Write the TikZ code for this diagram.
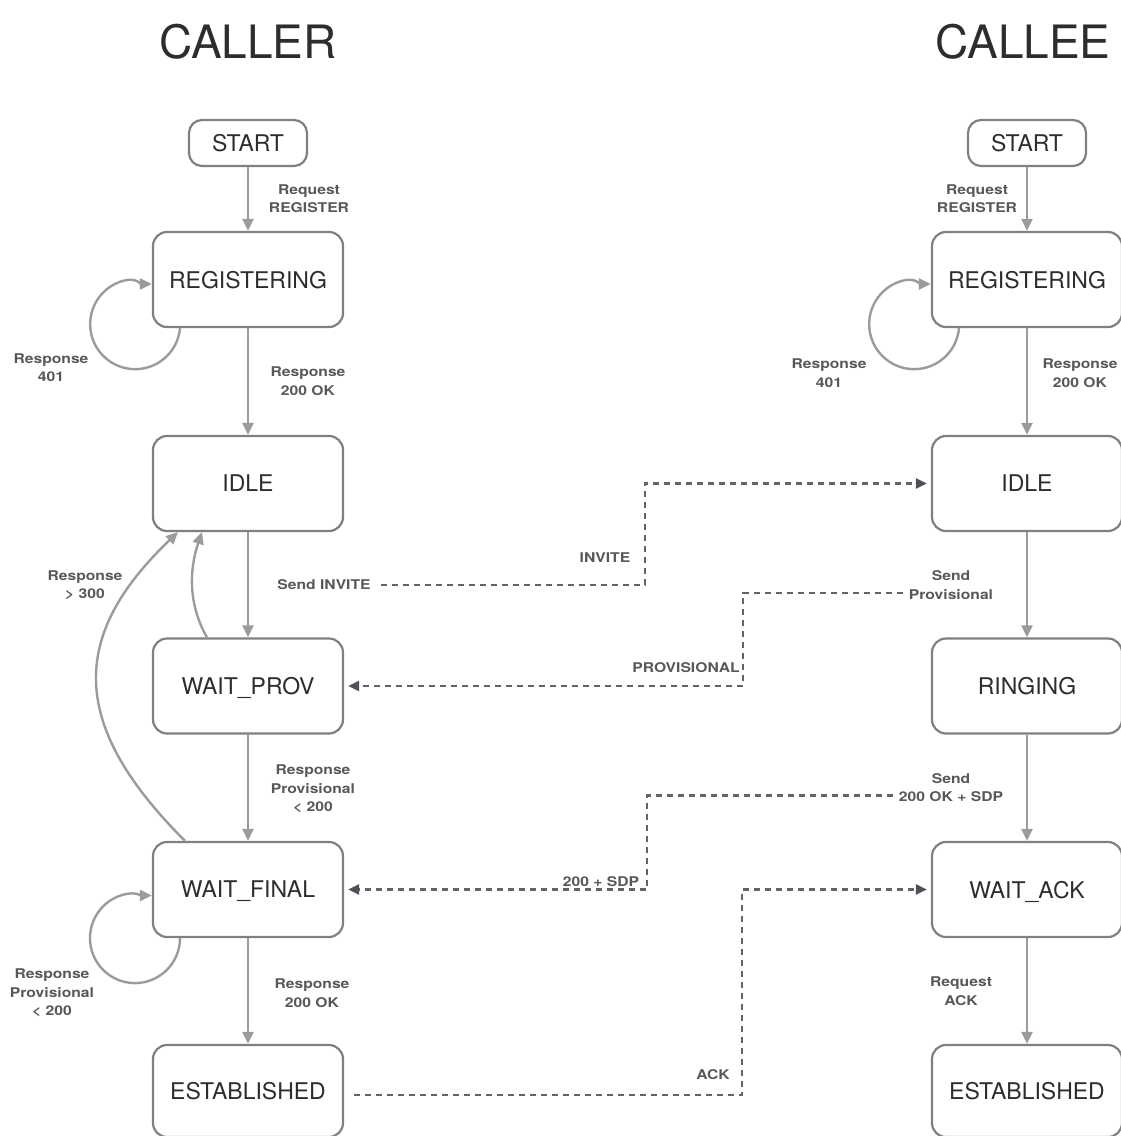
\documentclass[tikz,border=0pt]{standalone}
\usepackage{fontspec}
\setmainfont{TeX Gyre Heros}
\newfontfamily\lblfont[FakeStretch=1.17]{TeX Gyre Heros}
\usetikzlibrary{arrows.meta}
\definecolor{boxline}{RGB}{128,128,128}
\definecolor{boxtext}{RGB}{45,45,45}
\definecolor{flowline}{RGB}{155,155,155}
\definecolor{msgline}{RGB}{100,100,104}
\definecolor{msgtip}{RGB}{80,80,86}
\definecolor{lbltext}{RGB}{88,88,90}

\begin{document}
\begin{tikzpicture}[x=1pt,y=1pt,
  state/.style={draw=boxline, line width=2.2pt, rounded corners=14pt,
    minimum width=190pt, minimum height=95pt, text=boxtext,
    font=\fontsize{23}{27}\selectfont, text depth=0pt, inner sep=0pt},
  startbox/.style={state, minimum width=118pt, minimum height=46pt, rounded corners=13pt},
  flow/.style={draw=flowline, line width=2.4pt, -{Triangle[length=12pt,width=11pt]}},
  msg/.style={draw=msgline, line width=2.2pt, dash pattern=on 6pt off 5pt,
    shorten >=4pt, -{Triangle[length=11pt,width=10pt,color=msgtip]}},
  lbl/.style={text=lbltext, font=\lblfont\bfseries\fontsize{13.4}{18.5}\selectfont,
    align=center, inner sep=2pt},
  title/.style={text=boxtext, font=\fontsize{46}{50}\selectfont, inner sep=0pt}
]
\useasboundingbox (0,0) rectangle (1121,-1136);

% column headings
\node[title] (t1) at (248,-42) {CALLER};
\node[title] (t2) at (1023,-42) {CALLEE};

% caller states
\node[startbox] (s1) at (248,-143) {START};
\node[state] (r1) at (248,-279.5) {REGISTERING};
\node[state] (i1) at (248,-483.5) {IDLE};
\node[state] (p1) at (248,-686) {WAIT\_PROV};
\node[state] (f1) at (248,-889.5) {WAIT\_FINAL};
\node[state, minimum height=92pt] (e1) at (248,-1091) {ESTABLISHED};

% callee states
\node[startbox] (s2) at (1027,-143) {START};
\node[state] (r2) at (1027,-279.5) {REGISTERING};
\node[state] (i2) at (1027,-483.5) {IDLE};
\node[state] (g2) at (1027,-686) {RINGING};
\node[state] (a2) at (1027,-889.5) {WAIT\_ACK};
\node[state, minimum height=92pt] (e2) at (1027,-1091) {ESTABLISHED};

% caller transitions
\draw[flow] (s1) -- (r1);
\draw[flow] (r1) -- (i1);
\draw[flow] (i1) -- (p1);
\draw[flow] (p1) -- (f1);
\draw[flow] (f1) -- (e1);
\draw[flow] ([xshift=-68pt]r1.south) arc[start angle=-5,end angle=-258,radius=45pt]
  to[out=12,in=180] ([yshift=-4.5pt]r1.west);
\draw[flow] ([xshift=-68pt]f1.south) arc[start angle=0,end angle=-258,radius=45pt]
  to[out=12,in=180] ([yshift=-6pt]f1.west);
\draw[flow] ([xshift=-41pt]p1.north) .. controls +(-20,35) and +(-12,-35) .. ([xshift=-46pt]i1.south);
\draw[flow] ([xshift=-63pt]f1.north) .. controls +(-115,115) and +(-110,-105) .. ([xshift=-70pt]i1.south);

\node[lbl] (lq1) at (309,-198.5) {Request\\REGISTER};
\node[lbl] (l401a) at (51,-367.5) {Response\\401};
\node[lbl] (l200a) at (308,-381) {Response\\200 OK};
\node[lbl] (l300) at (85,-585.5) {Response\\> 300};
\node[lbl] (sinv) at (324,-585) {Send INVITE};
\node[lbl] (lpr1) at (313,-789) {Response\\Provisional\\< 200};
\node[lbl] (lpr2) at (52,-993) {Response\\Provisional\\< 200};
\node[lbl] (l200b) at (312,-993) {Response\\200 OK};

% callee transitions
\draw[flow] (s2) -- (r2);
\draw[flow] (r2) -- (i2);
\draw[flow] (i2) -- (g2);
\draw[flow] (g2) -- (a2);
\draw[flow] (a2) -- (e2);
\draw[flow] ([xshift=-68pt]r2.south) arc[start angle=-5,end angle=-258,radius=45pt]
  to[out=12,in=180] ([yshift=-4.5pt]r2.west);

\node[lbl] (lq2) at (977,-198.5) {Request\\REGISTER};
\node[lbl] (l401b) at (829,-373) {Response\\401};
\node[lbl] (l200c) at (1080,-373) {Response\\200 OK};
\node[lbl] (sprov) at (951,-585) {Send\\Provisional};
\node[lbl] (s200) at (951,-787.5) {Send\\200 OK + SDP};
\node[lbl] (lack) at (961,-991) {Request\\ACK};

% messages between the two sides
\draw[msg] ([xshift=8pt]sinv.east) -| ([xshift=-286pt]i2.west) -- (i2.west);
\draw[msg] ([xshift=-4pt,yshift=-8pt]sprov.west) -| ([xshift=399pt]p1.east) -- (p1.east);
\draw[msg] ([xshift=-4pt,yshift=-8pt]s200.west) -| ([xshift=303pt]f1.east) -- (f1.east);
\draw[msg] ([xshift=10pt,yshift=-4pt]e1.east) -| ([xshift=-189pt]a2.west) -- (a2.west);

\node[lbl] (minv) at (605,-558) {INVITE};
\node[lbl] (mprov) at (686,-668) {PROVISIONAL};
\node[lbl] (msdp) at (601,-882) {200 + SDP};
\node[lbl] (mack) at (713,-1075) {ACK};
\end{tikzpicture}
\end{document}
